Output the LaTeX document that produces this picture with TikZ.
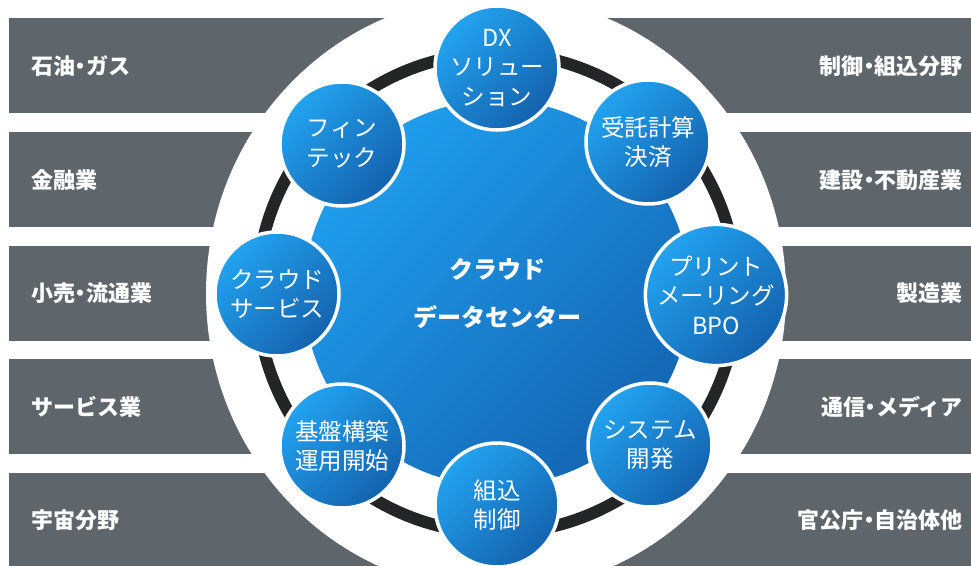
\documentclass[tikz,border=0pt]{standalone}
\usepackage{fontspec}
\setmainfont{Noto Sans CJK JP}
\definecolor{barc}{HTML}{5E656B}
\definecolor{ringc}{HTML}{232527}
\definecolor{bluel}{HTML}{22A3F0}
\definecolor{blued}{HTML}{1462AD}
\definecolor{hubl}{HTML}{1F9EEE}
\definecolor{hubd}{HTML}{1466B3}
\newcommand{\nakaguro}{\hbox to 0.5em{\hss ・\hss}}
\begin{document}
\begin{tikzpicture}[x=1pt,y=-1pt,
  lab/.style={text=white, inner sep=0pt, font=\bfseries\fontsize{22}{26}\selectfont},
  leftlab/.style={lab, anchor=west},
  rightlab/.style={lab, anchor=east},
  svc/.style={circle, draw=white, line width=3.5pt, minimum size=124pt, inner sep=0pt,
    top color=bluel, bottom color=blued, shading angle=45,
    text=white, align=center, font=\fontsize{23.5}{29.5}\selectfont},
  hub/.style={circle, minimum size=386pt, inner sep=0pt,
    top color=hubl, bottom color=hubd, shading angle=45,
    text=white, align=center, font=\bfseries\fontsize{24}{48}\selectfont}]
\useasboundingbox (0,0) rectangle (971,565);
\clip (0,0) rectangle (971,565);
\fill[white] (0,0) rectangle (971,565);
% bars
\foreach \t in {18,131.75,245.5,359.25,473}
  \fill[barc] (9,\t) rectangle (971,\t+95);
% white disc
\fill[white] (496,293.5) ellipse[x radius=290, y radius=298];
% hub
\node[hub] (hub) at (497,293) {クラウド\\データセンター};
% ring
\draw[ringc, line width=12pt] (hub.center) circle[radius=240];
% service circles
\node[svc] (dx)      at (497,68)  {DX\\ソリュー\\ション};
\node[svc] (kessai)  at (648,142) {受託計算\\決済};
\node[svc] (bpo)     at (716,295) {プリント\\メーリング\\BPO};
\node[svc] (sysdev)  at (650,445) {システム\\開発};
\node[svc] (embed)   at (497,505) {組込\\制御};
\node[svc] (infra)   at (342,446) {基盤構築\\運用開始};
\node[svc] (cloud)   at (277,294) {クラウド\\サービス};
\node[svc] (fintech) at (342,144) {フィン\\テック};
% labels
\node[leftlab] (l1) at (31,66)    {石油\nakaguro ガス};
\node[leftlab] (l2) at (31,180.5) {金融業};
\node[leftlab] (l3) at (31,293.5) {小売\nakaguro 流通業};
\node[leftlab] (l4) at (31,406.5) {サービス業};
\node[leftlab] (l5) at (31,520)   {宇宙分野};
\node[rightlab] (r1) at (963,66)    {制御\nakaguro 組込分野};
\node[rightlab] (r2) at (963,180.5) {建設\nakaguro 不動産業};
\node[rightlab] (r3) at (963,293.5) {製造業};
\node[rightlab] (r4) at (963,406.5) {通信\nakaguro メディア};
\node[rightlab] (r5) at (963,520)   {官公庁\nakaguro 自治体他};
\end{tikzpicture}
\end{document}
